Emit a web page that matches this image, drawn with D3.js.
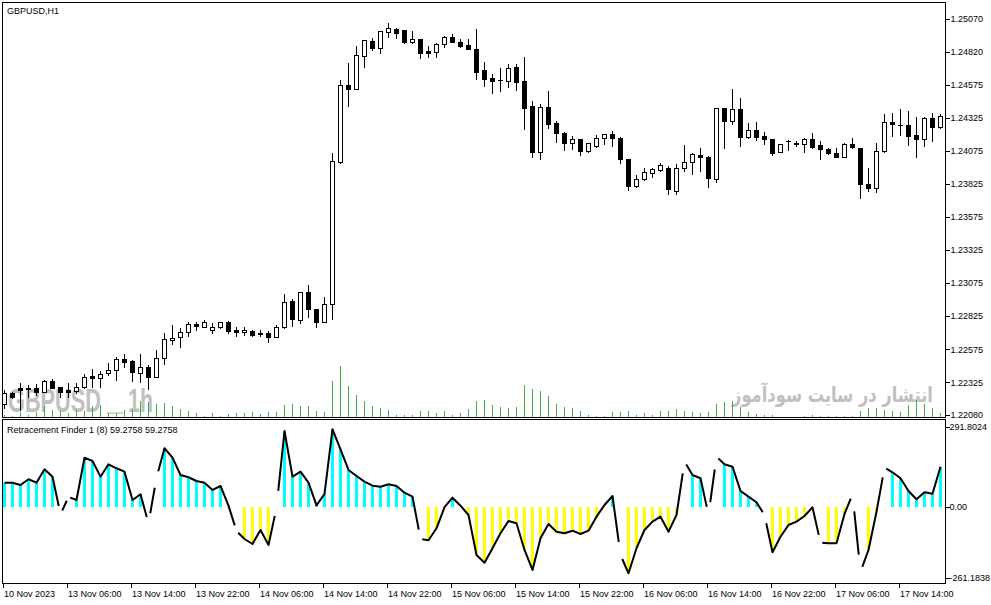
<!DOCTYPE html>
<html><head><meta charset="utf-8">
<script src="https://cdn.jsdelivr.net/npm/d3@7"></script>
<style>
body{margin:0;background:#fff;}
svg{display:block;}
text{font-family:"Liberation Sans",Arial,sans-serif;}
</style>
</head><body>
<svg id="c" width="991" height="605"></svg>
<script>
const symbolTitle = "GBPUSD,H1";
const indicatorTitle = "Retracement Finder 1 (8) 59.2758 59.2758";
const watermarkSymbol = "GBPUSD";
const watermarkPeriod = "1h";
const watermarkSite = "انتشار در سایت سودآموز";

const open = [1.22160,1.22243,1.22281,1.22281,1.22281,1.22250,1.22334,1.22288,1.22266,1.22258,
1.22288,1.22371,1.22356,1.22394,1.22417,1.22500,1.22485,1.22394,1.22439,1.22364,
1.22508,1.22644,1.22666,1.22704,1.22765,1.22742,1.22719,1.22742,1.22780,1.22719,
1.22704,1.22712,1.22697,1.22697,1.22666,1.22742,1.22938,1.22795,1.23007,1.22878,
1.22780,1.22916,1.23989,1.24571,1.24541,1.24791,1.24904,1.24851,1.24972,1.24995,
1.24987,1.24896,1.24919,1.24828,1.24821,1.24881,1.24934,1.24896,1.24874,1.24844,
1.24685,1.24624,1.24609,1.24602,1.24708,1.24602,1.24413,1.24065,1.24405,1.24284,
1.24209,1.24133,1.24163,1.24072,1.24110,1.24171,1.24201,1.24171,1.24012,1.23808,
1.23861,1.23906,1.23929,1.23944,1.23770,1.23944,1.23989,1.24042,1.24027,1.23861,
1.24398,1.24299,1.24390,1.24178,1.24231,1.24186,1.24163,1.24065,1.24148,1.24133,
1.24125,1.24163,1.24118,1.24088,1.24057,1.24027,1.24125,1.24095,1.23823,1.23793,
1.24072,1.24292,1.24269,1.24269,1.24193,1.24163,1.24322,1.24254];
const high = [1.22266,1.22250,1.22318,1.22303,1.22311,1.22341,1.22349,1.22288,1.22318,1.22318,
1.22387,1.22424,1.22409,1.22470,1.22515,1.22538,1.22492,1.22538,1.22455,1.22568,
1.22697,1.22757,1.22734,1.22780,1.22780,1.22795,1.22772,1.22780,1.22787,1.22742,
1.22742,1.22719,1.22719,1.22712,1.22757,1.22991,1.22954,1.23007,1.23059,1.22878,
1.22969,1.24057,1.24609,1.24738,1.24866,1.24912,1.24927,1.24980,1.25040,1.25002,
1.24987,1.24980,1.24919,1.24866,1.24889,1.24942,1.24957,1.24919,1.24919,1.24995,
1.24745,1.24655,1.24700,1.24730,1.24730,1.24783,1.24450,1.24428,1.24526,1.24299,
1.24216,1.24186,1.24163,1.24133,1.24193,1.24201,1.24224,1.24178,1.24012,1.23891,
1.23944,1.23944,1.23982,1.23959,1.23974,1.24118,1.24057,1.24095,1.24035,1.24398,
1.24398,1.24541,1.24473,1.24284,1.24292,1.24216,1.24163,1.24125,1.24156,1.24148,
1.24171,1.24209,1.24148,1.24095,1.24095,1.24133,1.24171,1.24095,1.23944,1.24133,
1.24352,1.24360,1.24390,1.24375,1.24330,1.24330,1.24360,1.24352];
const low = [1.22130,1.22205,1.22114,1.22213,1.22228,1.22250,1.22281,1.22213,1.22213,1.22243,
1.22281,1.22288,1.22288,1.22379,1.22341,1.22439,1.22334,1.22326,1.22273,1.22364,
1.22462,1.22613,1.22591,1.22674,1.22719,1.22742,1.22697,1.22734,1.22697,1.22674,
1.22681,1.22674,1.22674,1.22628,1.22666,1.22734,1.22749,1.22772,1.22818,1.22742,
1.22780,1.22802,1.23982,1.24413,1.24541,1.24708,1.24836,1.24813,1.24934,1.24927,
1.24889,1.24889,1.24776,1.24783,1.24783,1.24859,1.24896,1.24859,1.24844,1.24617,
1.24564,1.24511,1.24526,1.24556,1.24534,1.24239,1.24027,1.24012,1.24246,1.24140,
1.24080,1.24088,1.24042,1.24065,1.24103,1.24125,1.24110,1.23982,1.23778,1.23800,
1.23853,1.23876,1.23921,1.23747,1.23747,1.23921,1.23899,1.23921,1.23800,1.23838,
1.24095,1.24277,1.24110,1.24171,1.24156,1.24125,1.24042,1.24065,1.24080,1.24110,
1.24065,1.24095,1.24012,1.24050,1.24027,1.24027,1.24095,1.23717,1.23770,1.23763,
1.24065,1.24186,1.24193,1.24118,1.24027,1.24110,1.24148,1.24246];
const close = [1.22243,1.22213,1.22266,1.22273,1.22250,1.22334,1.22281,1.22250,1.22250,1.22288,
1.22364,1.22356,1.22387,1.22417,1.22500,1.22477,1.22402,1.22439,1.22364,1.22508,
1.22651,1.22659,1.22704,1.22765,1.22749,1.22780,1.22742,1.22780,1.22712,1.22704,
1.22719,1.22681,1.22689,1.22666,1.22742,1.22931,1.22802,1.23007,1.22878,1.22780,
1.22916,1.23997,1.24571,1.24541,1.24798,1.24912,1.24851,1.24980,1.25002,1.24965,
1.24896,1.24919,1.24813,1.24813,1.24881,1.24934,1.24896,1.24866,1.24844,1.24670,
1.24617,1.24602,1.24609,1.24700,1.24594,1.24398,1.24065,1.24405,1.24277,1.24209,
1.24133,1.24163,1.24072,1.24133,1.24171,1.24201,1.24171,1.24012,1.23808,1.23861,
1.23914,1.23936,1.23967,1.23785,1.23944,1.23989,1.24050,1.24027,1.23868,1.24398,
1.24299,1.24390,1.24178,1.24231,1.24178,1.24163,1.24057,1.24125,1.24148,1.24125,
1.24163,1.24103,1.24088,1.24057,1.24027,1.24125,1.24103,1.23823,1.23793,1.24072,
1.24292,1.24277,1.24269,1.24186,1.24163,1.24322,1.24254,1.24337];
const volume = [360,160,720,280,640,1360,960,760,560,960,
760,1440,1560,600,560,960,1040,1960,1880,1680,
1760,1360,1040,760,560,240,560,160,480,560,
560,640,440,640,720,1480,1680,1440,1360,760,
680,4360,6160,3760,2760,1960,1440,1160,960,360,
360,360,840,840,560,840,360,560,1080,2040,
2160,1560,1280,1160,1280,3960,3480,3240,2560,1680,
1280,1160,840,360,240,240,720,720,840,360,
560,360,840,840,1080,840,680,560,680,1680,
1880,2040,1280,680,480,360,360,80,60,60,
240,360,240,240,160,240,240,760,1160,1160,
960,760,680,1560,2160,1680,1160,560];
const rfLine = [87.9,87.9,79.5,100.3,87.9,137.0,109.9,-27.8,35.5,24.5,
179.4,167.4,109.9,155.3,140.6,128.2,24.5,45.4,-60.8,106.2,
213.9,179.4,116.1,107.7,94.1,87.9,61.2,75.8,3.7,-89.0,
-118.3,-136.6,-85.3,-140.3,-3.7,277.2,109.9,128.2,87.9,5.0,
46.5,283.5,209.5,134.4,112.4,91.6,76.9,73.2,82.0,75.8,
51.3,36.6,-118.3,-123.0,-79.1,-2.0,33.0,3.7,-30.4,-176.9,
-205.1,-152.3,-97.4,-52.4,-60.8,-158.6,-231.8,-115.7,-63.4,-91.6,
-97.4,-87.9,-100.0,-87.9,-36.6,6.2,39.2,-176.9,-243.9,-152.3,
-85.3,-54.9,-36.6,-91.6,-30.4,164.8,116.1,104.0,-30.4,183.1,
155.3,146.5,57.5,36.6,16.1,-30.4,-167.0,-109.9,-67.0,-54.9,
-34.1,-2.2,-131.8,-134.0,-134.0,-26.7,45.4,-238.0,-158.6,-18.3,
142.8,126.0,104.0,57.5,27.1,52.7,47.6,146.5];
const rfHist = [87.9,87.9,79.5,100.3,87.9,137.0,109.9,null,null,24.5,
179.4,167.4,109.9,155.3,140.6,128.2,24.5,45.4,null,null,
213.9,179.4,116.1,107.7,94.1,87.9,61.2,75.8,3.7,null,
-118.3,-136.6,-85.3,-140.3,null,277.2,109.9,128.2,87.9,5.0,
46.5,283.5,209.5,134.4,112.4,91.6,76.9,73.2,82.0,75.8,
51.3,36.6,null,-123.0,-79.1,0,33.0,0,-30.4,-176.9,
-205.1,-152.3,-97.4,-52.4,-60.8,-158.6,-231.8,-115.7,-63.4,-91.6,
-97.4,-87.9,-100.0,-87.9,-36.6,0,39.2,null,-243.9,-152.3,
-85.3,-54.9,-36.6,-91.6,-30.4,null,116.1,104.0,null,null,
155.3,146.5,57.5,36.6,16.1,null,-167.0,-109.9,-67.0,-54.9,
-34.1,-2.2,null,-134.0,-134.0,-26.7,null,null,-158.6,-18.3,
null,126.0,104.0,57.5,27.1,52.7,47.6,146.5];
const priceTicks = [1.25070,1.24820,1.24575,1.24325,1.24075,1.23825,1.23575,1.23325,1.23075,1.22825,1.22575,1.22325,1.22080];
const indTicks = [291.8024,0,-261.1838];
const indTickLabels = ["291.8024","0.00","-261.1838"];
const timeTickIndex = [0,8,16,24,32,40,48,56,64,72,80,88,96,104,112];
const timeTickLabels = ["10 Nov 2023","13 Nov 06:00","13 Nov 14:00","13 Nov 22:00","14 Nov 06:00","14 Nov 14:00","14 Nov 22:00","15 Nov 06:00","15 Nov 14:00","15 Nov 22:00","16 Nov 06:00","16 Nov 14:00","16 Nov 22:00","17 Nov 06:00","17 Nov 14:00"];

const n = open.length;
const svg = d3.select("#c");
const L = 2.5, R = 945.5, T = 2.5, MB = 417.5, IT = 419.5, IB = 583.5;

const x = d3.scaleLinear().domain([0, n-1]).range([4.5, 4.5 + 8*(n-1)]);
const xTick = d3.scaleLinear().domain([0, n-1]).range([2.5, 2.5 + 8*(n-1)]);
const yP = d3.scaleLinear().domain([1.22080, 1.25070]).range([414.7, 19]);
const yV = d3.scaleLinear().domain([0, 6000]).range([MB, MB - 50]);
const yI = d3.scaleLinear().domain([-261.1838, 291.8024]).range([578, 427]);

const defs = svg.append("defs");
defs.append("clipPath").attr("id","mainClip").append("rect")
  .attr("x",L+0.5).attr("y",T+0.5).attr("width",R-L-1).attr("height",MB-T-1);
defs.append("clipPath").attr("id","indClip").append("rect")
  .attr("x",L+0.5).attr("y",IT+0.5).attr("width",R-L-1).attr("height",IB-IT-1);

// watermarks (fitted to their width with a horizontal scale)
const wm = svg.append("g").attr("fill","#c0c0c0");
function fitText(txt, left, base, size, width, family){
  const t = wm.append("text").attr("font-size",size).attr("font-weight","bold")
    .style("font-family",family).text(txt);
  const w = t.node().getComputedTextLength();
  t.attr("transform",`translate(${left},${base}) scale(${width/w},1)`);
  return t;
}
fitText(watermarkSymbol, 8, 411.5, 33, 93, "'Liberation Sans',Arial,sans-serif");
wm.append("rect").attr("x",107).attr("y",412.5).attr("width",16).attr("height",1.3);
fitText(watermarkPeriod, 128, 411.5, 33, 25, "'Liberation Sans',Arial,sans-serif");
fitText(watermarkSite, 732, 402, 21, 201, "'DejaVu Sans',sans-serif");

// volumes
const main = svg.append("g").attr("clip-path","url(#mainClip)");
main.append("g").selectAll("line").data(volume).join("line")
  .attr("x1",(d,i)=>x(i)).attr("x2",(d,i)=>x(i))
  .attr("y1",yV(0)).attr("y2",d=>yV(d))
  .attr("stroke","#3cb043").attr("stroke-width",1).attr("shape-rendering","crispEdges");

// candles
const cg = main.append("g").attr("shape-rendering","crispEdges");
for (let i=0;i<n;i++){
  const xc = x(i);
  cg.append("line").attr("x1",xc).attr("x2",xc)
    .attr("y1",Math.round(yP(high[i]))).attr("y2",Math.round(yP(low[i]))+1)
    .attr("stroke","#000").attr("stroke-width",1);
  const top = Math.round(yP(Math.max(open[i],close[i])));
  const bot = Math.round(yP(Math.min(open[i],close[i])));
  if (bot - top < 1) {
    cg.append("rect").attr("x",xc-2.5).attr("y",top).attr("width",5).attr("height",1).attr("fill","#000");
  } else if (close[i] < open[i]) {
    cg.append("rect").attr("x",xc-2.5).attr("y",top).attr("width",5).attr("height",bot-top+1).attr("fill","#000");
  } else {
    cg.append("rect").attr("x",xc-2).attr("y",top+0.5).attr("width",4).attr("height",bot-top)
      .attr("fill","#fff").attr("stroke","#000").attr("stroke-width",1);
  }
}

// indicator histogram
const ind = svg.append("g").attr("clip-path","url(#indClip)");
ind.append("g").attr("shape-rendering","crispEdges").selectAll("rect")
  .data(rfHist.map((v,i)=>({v,i})).filter(d=>d.v!==null && d.v!==0)).join("rect")
  .attr("x",d=>x(d.i)-1.5).attr("width",3)
  .attr("y",d=>Math.min(yI(0),yI(d.v))).attr("height",d=>Math.abs(yI(d.v)-yI(0)))
  .attr("fill",d=>d.v>0?"#00ffff":"#ffff00");

// indicator line with breaks at unconfirmed bars
const brk = new Set(rfHist.map((v,i)=>v===null?i:-1).filter(i=>i>=0));
const trim = 0.22;
let pathStr = "";
let penDown = false;
for (let i=0;i<n-1;i++){
  const x1=x(i), y1=yI(rfLine[i]), x2=x(i+1), y2=yI(rfLine[i+1]);
  const t0 = brk.has(i)?trim:0, t1 = brk.has(i+1)?1-trim:1;
  const ax = x1+(x2-x1)*t0, ay = y1+(y2-y1)*t0;
  const bx = x1+(x2-x1)*t1, by = y1+(y2-y1)*t1;
  if (!penDown || t0>0) pathStr += `M${ax},${ay}`;
  pathStr += `L${bx},${by}`;
  penDown = t1===1;
}
ind.append("path").attr("d",pathStr).attr("fill","none").attr("stroke","#000")
  .attr("stroke-width",2).attr("stroke-linejoin","round");

// frames
const fr = svg.append("g").attr("stroke","#000").attr("stroke-width",1).attr("fill","none").attr("shape-rendering","crispEdges");
fr.append("rect").attr("x",L).attr("y",T).attr("width",R-L).attr("height",MB-T);
fr.append("rect").attr("x",L).attr("y",IT).attr("width",R-L).attr("height",IB-IT);

// axes
function styleAxis(g){
  g.select(".domain").remove();
  g.selectAll("text").attr("font-size",9).attr("fill","#000")
    .style("font-family","'Liberation Sans',Arial,sans-serif");
  g.selectAll("line").attr("stroke","#000").attr("shape-rendering","crispEdges");
}
const ay = svg.append("g").attr("transform",`translate(${R},0)`)
  .call(d3.axisRight(yP).tickValues(priceTicks).tickFormat(d3.format(".5f")).tickSize(4).tickPadding(1));
styleAxis(ay);
const ai = svg.append("g").attr("transform",`translate(${R},0)`)
  .call(d3.axisRight(yI).tickValues(indTicks).tickFormat((d,i)=>indTickLabels[i]).tickSize(4).tickPadding(0));
styleAxis(ai);
ai.selectAll("text").attr("x",4);
const ax = svg.append("g").attr("transform",`translate(0,${IB})`)
  .call(d3.axisBottom(xTick).tickValues(timeTickIndex).tickFormat((d,i)=>timeTickLabels[i]).tickSize(4));
styleAxis(ax);
ax.selectAll("text").attr("text-anchor","start").attr("x",1).attr("y",13).attr("dy",0);

// titles
svg.append("text").attr("x",7).attr("y",14).attr("font-size",9).text(symbolTitle);
svg.append("text").attr("x",7).attr("y",432.5).attr("font-size",9).text(indicatorTitle);
</script>
</body></html>
